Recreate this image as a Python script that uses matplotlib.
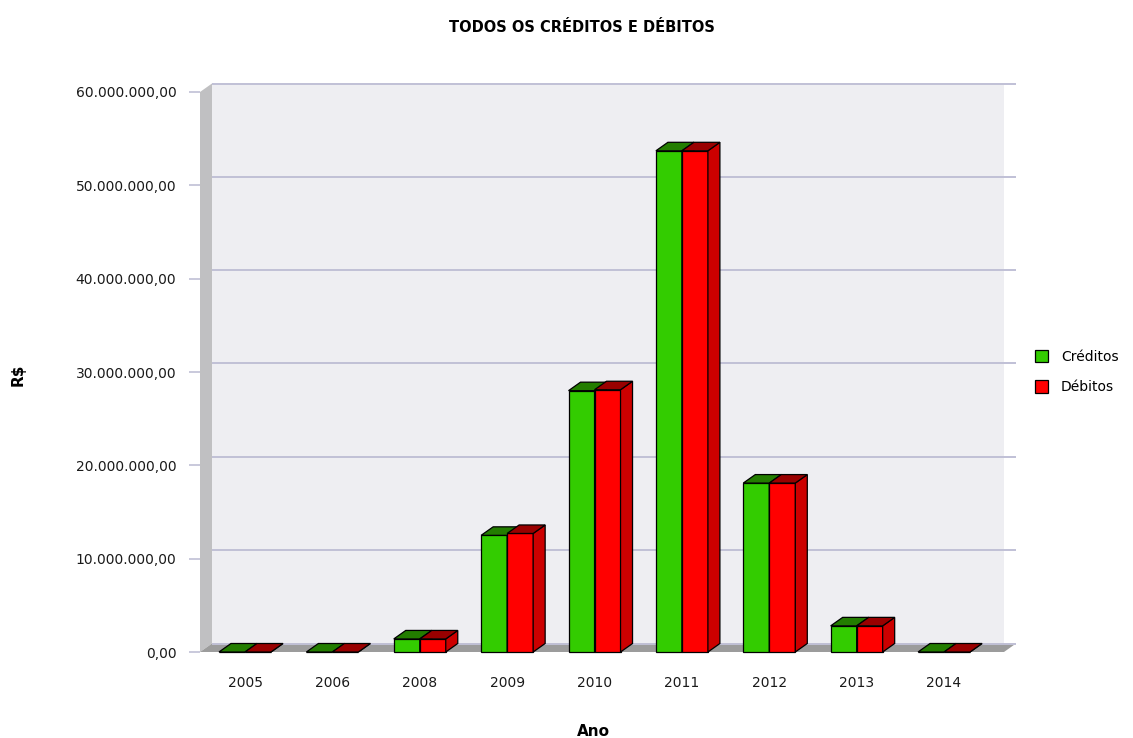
import matplotlib
matplotlib.use("Agg")
import matplotlib.pyplot as plt
from matplotlib.patches import Polygon, Patch

anos = ['2005', '2006', '2008', '2009', '2010', '2011', '2012', '2013', '2014']
creditos = [0, 0, 1.4e6, 12.5e6, 28.0e6, 53.7e6, 18.1e6, 2.8e6, 0]
debitos = [0, 0, 1.4e6, 12.7e6, 28.1e6, 53.7e6, 18.1e6, 2.8e6, 0]
y_ticks = [0, 10e6, 20e6, 30e6, 40e6, 50e6, 60e6]

W, H = 1133, 738
fig = plt.figure(figsize=(W / 100, H / 100), dpi=100)
fig.patch.set_facecolor('white')

# front face of the plot area, in pixels
left, right, bottom, top = 200, 1004, 652, 92
ax = fig.add_axes([left / W, 1 - bottom / H, (right - left) / W, (bottom - top) / H])
x0, x1 = -0.515, 8.686
ymax = 60e6
ax.set_xlim(x0, x1)
ax.set_ylim(0, ymax)
for s in ax.spines.values():
    s.set_visible(False)
ax.set_facecolor('none')

# 3d depth offsets converted to data units
dx = 12 / (right - left) * (x1 - x0)
dy = 8.5 / (bottom - top) * ymax

def poly(pts, fc, z, ec='none', lw=0.0):
    p = Polygon(pts, closed=True, facecolor=fc, edgecolor=ec, linewidth=lw,
                zorder=z, clip_on=False, joinstyle='miter')
    ax.add_patch(p)

# walls
poly([(x0 + dx, dy), (x1, dy), (x1, ymax + dy), (x0 + dx, ymax + dy)], '#EEEEF2', 0)
poly([(x0, 0), (x0 + dx, dy), (x0 + dx, ymax + dy), (x0, ymax)], '#C0C0C2', 0.5)
poly([(x0, 0), (x1, 0), (x1 + dx, dy), (x0 + dx, dy)], '#9C9C9C', 0.5)

for v in y_ticks:
    ax.plot([x0 + dx, x1 + dx], [v + dy, v + dy], color='#C0C0D6', lw=1.4,
            zorder=1, clip_on=False, solid_capstyle='butt')

def bar3d(xa, xb, h, front, side, topc):
    lw = 0.9
    poly([(xa, 0), (xb, 0), (xb, h), (xa, h)], front, 3, 'black', lw)
    poly([(xb, 0), (xb + dx, dy), (xb + dx, h + dy), (xb, h)], side, 3, 'black', lw)
    poly([(xa, h), (xb, h), (xb + dx, h + dy), (xa + dx, h + dy)], topc, 3, 'black', lw)

w = 26 / (right - left) * (x1 - x0)
for i in range(len(anos)):
    bar3d(i - w, i, creditos[i], '#33CC00', '#248F00', '#237D00')
    bar3d(i, i + w, debitos[i], '#FF0000', '#CC0000', '#990000')

def fmt(v):
    s = f"{int(v):,}".replace(',', '.')
    return s + ',00'

ax.set_yticks(y_ticks)
ax.set_yticklabels([fmt(v) for v in y_ticks])
ax.tick_params(axis='y', length=8, width=1.2, color='#C0C0D6', pad=9,
               labelsize=10, labelcolor='#1a1a1a')
ax.set_xticks(range(len(anos)))
ax.set_xticklabels(anos)
ax.tick_params(axis='x', length=0, pad=17, labelsize=10, labelcolor='#1a1a1a')

fig.text(582 / W, 1 - 27 / H, 'TODOS OS CRÉDITOS E DÉBITOS', ha='center',
         va='center', fontsize=10.5, fontweight='bold')
fig.text(18 / W, 1 - 375 / H, 'R$', rotation=90, ha='center', va='center',
         fontsize=11, fontweight='bold')
fig.text(593 / W, 1 - 731 / H, 'Ano', ha='center', va='center',
         fontsize=11, fontweight='bold')

handles = [Patch(facecolor='#33CC00', edgecolor='black', linewidth=0.9, label='Créditos'),
           Patch(facecolor='#FF0000', edgecolor='black', linewidth=0.9, label='Débitos')]
fig.legend(handles=handles, loc='center left', bbox_to_anchor=(1022 / W, 1 - 372 / H),
           frameon=False, fontsize=10, handlelength=1.0, handleheight=1.0,
           handletextpad=0.9, labelspacing=1.2)

fig.savefig('out.png', dpi=100)
